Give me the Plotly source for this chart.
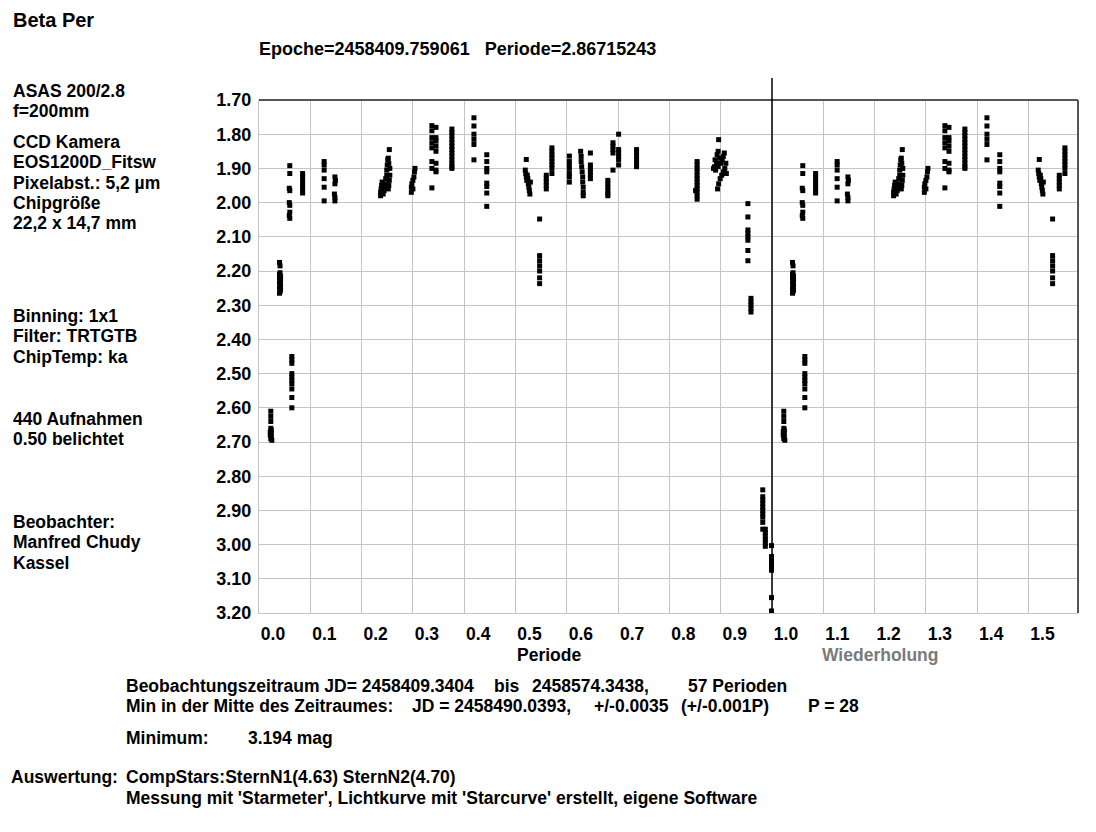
import plotly.graph_objects as go

# Beta Per light curve, phase vs. magnitude
phase = [
    0.023, 0.023, 0.023, 0.023, 0.024, 0.022, 0.024, 0.022, 0.024, 0.023, 0.025,
    0.040, 0.041, 0.041, 0.040, 0.042, 0.040, 0.042, 0.041, 0.040, 0.042, 0.041, 0.040, 0.042, 0.041, 0.040,
    0.060, 0.060, 0.059, 0.060, 0.059, 0.060, 0.060, 0.059, 0.060,
    0.064, 0.064, 0.064, 0.064, 0.064, 0.064, 0.064, 0.064, 0.064, 0.064,
    0.085, 0.085, 0.085, 0.085, 0.085, 0.085, 0.085,
    0.127, 0.127, 0.127, 0.127, 0.127, 0.127,
    0.148, 0.149, 0.148, 0.147, 0.148, 0.148,
    0.237, 0.237, 0.238, 0.239, 0.240, 0.242, 0.244, 0.245, 0.247, 0.247, 0.249,
    0.249, 0.250, 0.251, 0.252, 0.253, 0.254, 0.255, 0.255, 0.253, 0.252, 0.254,
    0.297, 0.297, 0.298, 0.300, 0.302, 0.303, 0.304, 0.300,
    0.337, 0.337, 0.337, 0.337, 0.337, 0.337, 0.337, 0.337,
    0.345, 0.345, 0.345, 0.345, 0.345, 0.345, 0.345, 0.345,
    0.376, 0.376, 0.376, 0.376, 0.376, 0.376, 0.376, 0.376, 0.376, 0.376, 0.376, 0.376, 0.376,
    0.419, 0.419, 0.419, 0.419, 0.419, 0.419,
    0.444, 0.444, 0.444, 0.444, 0.444, 0.444, 0.444, 0.444,
    0.521, 0.519, 0.520, 0.521, 0.522, 0.523, 0.525, 0.526, 0.527, 0.528, 0.524, 0.529,
    0.547, 0.547, 0.547, 0.547, 0.547, 0.547, 0.547,
    0.560, 0.560, 0.560, 0.560, 0.560,
    0.571, 0.571, 0.571, 0.571, 0.571, 0.571, 0.571, 0.571,
    0.605, 0.605, 0.605, 0.605, 0.605, 0.605, 0.605,
    0.627, 0.628, 0.628, 0.629, 0.630, 0.631, 0.631, 0.632, 0.632, 0.632,
    0.646, 0.646, 0.646, 0.646, 0.646, 0.646,
    0.680, 0.680, 0.680, 0.680, 0.680, 0.680,
    0.690, 0.690, 0.690, 0.690, 0.690,
    0.701, 0.701, 0.701, 0.701, 0.701, 0.701,
    0.736, 0.736, 0.736, 0.736, 0.736, 0.736,
    0.854, 0.854, 0.854, 0.854, 0.854, 0.854, 0.854, 0.854, 0.854, 0.854, 0.854, 0.854, 0.851,
    0.896, 0.893, 0.895, 0.898, 0.889, 0.892, 0.888, 0.890, 0.895, 0.900, 0.903,
    0.905, 0.907, 0.910, 0.908, 0.905, 0.902, 0.899, 0.896, 0.894, 0.911, 0.886,
    0.953, 0.953, 0.953, 0.953, 0.953, 0.953, 0.953, 0.953,
    0.959, 0.959, 0.959, 0.959, 0.959,
    0.982, 0.982, 0.982, 0.982, 0.982, 0.982, 0.982, 0.982, 0.982, 0.982,
    0.987, 0.987, 0.987, 0.987, 0.987, 0.987,
    0.999, 0.999, 0.999, 0.999, 0.999, 0.999, 0.999, 0.999,
]
mag = [
    2.610, 2.625, 2.640, 2.660, 2.665, 2.670, 2.675, 2.680, 2.685, 2.690, 2.695,
    2.175, 2.185, 2.205, 2.210, 2.215, 2.220, 2.225, 2.230, 2.235, 2.240, 2.245, 2.250, 2.255, 2.260, 2.265,
    1.892, 1.915, 1.958, 1.965, 2.000, 2.008, 2.028, 2.038, 2.046,
    2.450, 2.460, 2.470, 2.500, 2.510, 2.520, 2.530, 2.545, 2.570, 2.600,
    1.915, 1.925, 1.935, 1.945, 1.955, 1.965, 1.972,
    1.880, 1.890, 1.905, 1.930, 1.955, 1.995,
    1.925, 1.935, 1.945, 1.975, 1.985, 1.995,
    1.980, 1.970, 1.960, 1.950, 1.940, 1.975, 1.965, 1.955, 1.945, 1.930, 1.920,
    1.905, 1.890, 1.875, 1.960, 1.950, 1.935, 1.920, 1.900, 1.885, 1.870, 1.845,
    1.970, 1.955, 1.945, 1.935, 1.925, 1.910, 1.900, 1.960,
    1.775, 1.790, 1.810, 1.825, 1.840, 1.880, 1.900, 1.957,
    1.780, 1.810, 1.820, 1.835, 1.850, 1.885, 1.905, 1.910,
    1.785, 1.795, 1.805, 1.815, 1.825, 1.835, 1.845, 1.855, 1.865, 1.875, 1.885, 1.895, 1.900,
    1.752, 1.776, 1.800, 1.815, 1.830, 1.875,
    1.860, 1.880, 1.900, 1.910, 1.943, 1.953, 1.972, 2.011,
    1.874, 1.905, 1.915, 1.925, 1.935, 1.920, 1.945, 1.955, 1.965, 1.975, 1.930, 1.940,
    2.048, 2.155, 2.170, 2.185, 2.200, 2.220, 2.237,
    1.920, 1.930, 1.940, 1.950, 1.960,
    1.840, 1.850, 1.860, 1.870, 1.880, 1.890, 1.900, 1.915,
    1.864, 1.880, 1.890, 1.900, 1.915, 1.925, 1.940,
    1.850, 1.865, 1.880, 1.895, 1.910, 1.925, 1.940, 1.955, 1.970, 1.980,
    1.855, 1.890, 1.900, 1.910, 1.920, 1.930,
    1.935, 1.945, 1.955, 1.965, 1.975, 1.980,
    1.825, 1.835, 1.845, 1.855, 1.905,
    1.800, 1.845, 1.855, 1.865, 1.875, 1.890,
    1.845, 1.855, 1.865, 1.875, 1.885, 1.895,
    1.880, 1.890, 1.900, 1.910, 1.920, 1.930, 1.940, 1.950, 1.960, 1.970, 1.980, 1.990, 1.965,
    1.816, 1.860, 1.850, 1.870, 1.875, 1.885, 1.895, 1.905, 1.895, 1.885, 1.875,
    1.865, 1.855, 1.885, 1.900, 1.910, 1.920, 1.930, 1.945, 1.960, 1.915, 1.900,
    2.003, 2.042, 2.080, 2.090, 2.100, 2.110, 2.140, 2.170,
    2.280, 2.290, 2.300, 2.310, 2.320,
    2.840, 2.860, 2.870, 2.880, 2.890, 2.900, 2.910, 2.920, 2.935, 2.955,
    2.955, 2.965, 2.975, 2.985, 2.995, 3.005,
    3.003, 3.035, 3.045, 3.055, 3.065, 3.075, 3.155, 3.194,
]

x_ticks = [0.0, 0.1, 0.2, 0.3, 0.4, 0.5, 0.6, 0.7, 0.8, 0.9, 1.0, 1.1, 1.2, 1.3, 1.4, 1.5]
x_labels = ["0.0", "0.1", "0.2", "0.3", "0.4", "0.5", "0.6", "0.7", "0.8", "0.9",
            "1.0", "1.1", "1.2", "1.3", "1.4", "1.5"]
y_ticks = [1.7, 1.8, 1.9, 2.0, 2.1, 2.2, 2.3, 2.4, 2.5, 2.6, 2.7, 2.8, 2.9, 3.0, 3.1, 3.2]
x_max = 1.5965

# second cycle ("Wiederholung")
rep_phase = [p + 1 for p in phase if p + 1 <= x_max]
rep_mag = [m for p, m in zip(phase, mag) if p + 1 <= x_max]

# page coordinates of the reference; the browser body adds 8px margin
OFF = 8
W, H = 1096 - OFF, 832 - OFF
L, R, T, B = 259 - OFF, 1078 - OFF, 100 - OFF, 613 - OFF
FONT = "Liberation Sans, Arial, sans-serif"


def px(x):
    return (x - OFF - L) / (R - L)


def py(y):
    return (B - (y - OFF)) / (B - T)


fig = go.Figure()
fig.add_trace(go.Scatter(x=phase + rep_phase, y=mag + rep_mag, mode="markers",
                         marker=dict(symbol="square", size=5, color="black", line=dict(width=0)),
                         showlegend=False, hoverinfo="x+y"))

fig.update_layout(
    width=W, height=H, autosize=False,
    margin=dict(l=L, r=W - R, t=T, b=H - B, pad=0),
    paper_bgcolor="white", plot_bgcolor="white",
    font=dict(family=FONT, color="black"),
)
fig.update_xaxes(range=[0, x_max], tickvals=x_ticks, ticktext=x_labels,
                 showgrid=True, gridcolor="#c4c4c4", gridwidth=1, zeroline=False,
                 showline=True, linecolor="#c4c4c4", linewidth=1,
                 ticks="", ticklabelshift=14, ticklabelstandoff=5,
                 tickfont=dict(size=17.5, family=FONT, weight="bold"))
fig.update_yaxes(range=[3.2, 1.7], tickvals=y_ticks, tickformat=".2f",
                 showgrid=True, gridcolor="#c4c4c4", gridwidth=1, zeroline=False,
                 showline=True, linecolor="#c4c4c4", linewidth=1,
                 ticks="", ticklabelstandoff=3,
                 tickfont=dict(size=18, family=FONT, weight="bold"))

# frame: dark top and right edge, black line at phase 1.0
fig.add_shape(type="line", xref="paper", yref="paper", x0=0, x1=1, y0=1, y1=1,
              line=dict(color="#555555", width=2))
fig.add_shape(type="line", xref="paper", yref="paper", x0=1, x1=1, y0=0, y1=1,
              line=dict(color="#555555", width=2))
fig.add_shape(type="line", xref="x", yref="paper", x0=1.0, x1=1.0, y0=0, y1=py(78),
              line=dict(color="black", width=1.5))


def text(x, y, s, size=17.5, bold=True, color="black", anchor="left", vanchor="middle"):
    fig.add_annotation(x=px(x), y=py(y), xref="paper", yref="paper", text=s, showarrow=False,
                       xanchor=anchor, yanchor=vanchor, borderpad=0,
                       font=dict(size=size, family=FONT, color=color,
                                 weight="bold" if bold else "normal"))


text(12, OFF, "Beta Per", size=20, vanchor="top")
text(258, 49, "Epoche=2458409.759061\u00a0\u00a0\u00a0Periode=2.86715243", size=18)

left_lines = [
    (91, "ASAS 200/2.8"), (111, "f=200mm"),
    (142, "CCD Kamera"), (162, "EOS1200D_Fitsw"), (183, "Pixelabst.: 5,2 µm"),
    (203, "Chipgröße"), (223, "22,2 x 14,7 mm"),
    (316, "Binning: 1x1"), (336, "Filter: TRTGTB"), (357, "ChipTemp: ka"),
    (419, "440 Aufnahmen"), (439, "0.50 belichtet"),
    (522, "Beobachter:"), (542, "Manfred Chudy"), (563, "Kassel"),
]
for y, s in left_lines:
    text(12, y, s)

text(549, 655, "Periode", anchor="center")
text(880, 655, "Wiederholung", color="#7a7a7a", anchor="center")

text(125, 686, "Beobachtungszeitraum JD= 2458409.3404")
text(493, 686, "bis")
text(531, 686, "2458574.3438,")
text(687, 686, "57 Perioden")
text(125, 706, "Min in der Mitte des Zeitraumes:")
text(411, 706, "JD = 2458490.0393,")
text(593, 706, "+/-0.0035")
text(680, 706, "(+/-0.001P)")
text(807, 706, "P = 28")
text(125, 738, "Minimum:")
text(247, 738, "3.194 mag")
text(10, 777, "Auswertung:")
text(125, 777, "CompStars:SternN1(4.63) SternN2(4.70)")
text(125, 798, "Messung mit 'Starmeter', Lichtkurve mit 'Starcurve' erstellt, eigene Software")

fig.write_html("out.html")
